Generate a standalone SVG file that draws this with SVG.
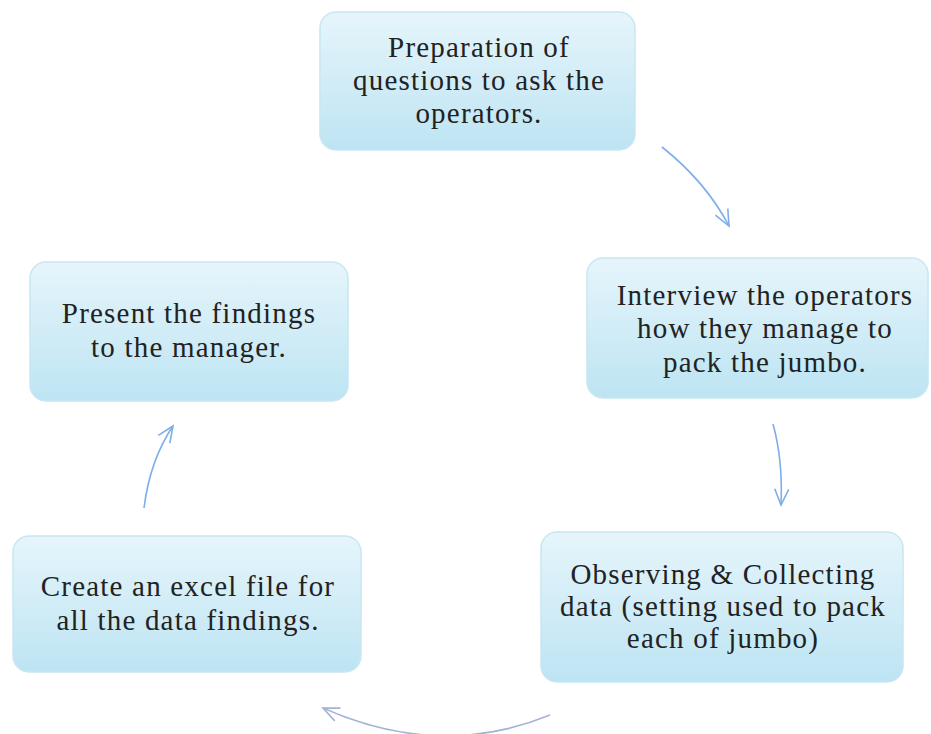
<svg xmlns="http://www.w3.org/2000/svg" width="931" height="734" viewBox="0 0 931 734">
<defs>
<linearGradient id="g" x1="0" y1="0" x2="0" y2="1">
<stop offset="0" stop-color="#e6f5fb"/>
<stop offset="1" stop-color="#bde4f3"/>
</linearGradient>
<marker id="ah" viewBox="0 0 20 20" refX="18" refY="10" markerWidth="20" markerHeight="20" markerUnits="userSpaceOnUse" orient="auto">
<path d="M2,3 L18,10 L2,17" fill="none" stroke="#7eaee9" stroke-width="1.6"/>
</marker>
<marker id="ah2" viewBox="0 0 20 20" refX="18" refY="10" markerWidth="20" markerHeight="20" markerUnits="userSpaceOnUse" orient="auto">
<path d="M2,3 L18,10 L2,17" fill="none" stroke="#a3b3d6" stroke-width="1.6"/>
</marker>
</defs>
<style>
.box{fill:url(#g);stroke:#c9e6f2;stroke-width:1.5}
.t{font-family:"Liberation Serif","Times New Roman",serif;font-size:29px;letter-spacing:1.2px;fill:#222;text-anchor:middle}
.c{fill:none;stroke:#7eaee9;stroke-width:1.6}
</style>
<rect width="931" height="734" fill="#fff"/>
<g id="n1"><rect class="box" x="320" y="12" width="315" height="138" rx="16"/>
<text class="t" x="479" y="57">Preparation of</text>
<text class="t" x="479" y="90">questions to ask the</text>
<text class="t" x="479" y="123">operators.</text></g>
<g id="n2"><rect class="box" x="587" y="258" width="341" height="140" rx="16"/>
<text class="t" x="765" y="305">Interview the operators</text>
<text class="t" x="765" y="338">how they manage to</text>
<text class="t" x="765" y="372">pack the jumbo.</text></g>
<g id="n3"><rect class="box" x="541" y="532" width="362" height="150" rx="16"/>
<text class="t" x="723" y="584">Observing &amp; Collecting</text>
<text class="t" x="723" y="616">data (setting used to pack</text>
<text class="t" x="723" y="648">each of jumbo)</text></g>
<g id="n4"><rect class="box" x="13" y="536" width="348" height="136" rx="16"/>
<text class="t" x="188" y="596">Create an excel file for</text>
<text class="t" x="188" y="630">all the data findings.</text></g>
<g id="n5"><rect class="box" x="30" y="262" width="318" height="139" rx="16"/>
<text class="t" x="189" y="323">Present the findings</text>
<text class="t" x="189" y="357">to the manager.</text></g>
<g id="connectors">
<path class="c" d="M662,147 Q706,182 729,226" marker-end="url(#ah)"/>
<path class="c" d="M773,424 Q783,460 781,505" marker-end="url(#ah)"/>
<path class="c" d="M550,715 Q440,760 323,708" style="stroke:#a3b3d6" marker-end="url(#ah2)"/>
<path class="c" d="M144,508 Q150,460 173,426" marker-end="url(#ah)"/>
</g>
</svg>
